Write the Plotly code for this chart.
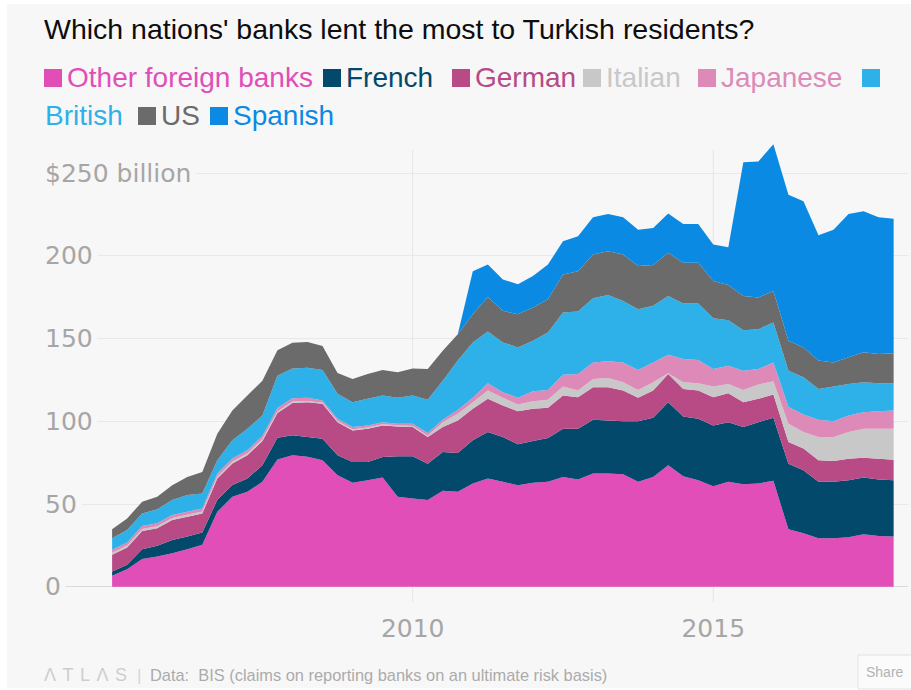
import plotly.graph_objects as go

# ---------------- data (billions of US$, quarterly 2005Q1 .. 2018Q1) ----------------
years = list(range(2005, 2018))
periods = [y + q / 4 for y in years for q in range(4)] + [2018.0]

series_names = ["Other foreign banks", "French", "German", "Italian",
                "Japanese", "British", "US", "Spanish"]
series_colors = ["#e14eb8", "#02496b", "#b84a86", "#c8c8c8",
                 "#dd8ab8", "#2eb1e8", "#6b6b6b", "#0a8ae2"]

other_foreign = [6.6, 10.6, 16.7, 18.3, 20.3, 22.7, 25.3, 45.3, 54.4, 57.4, 63.4, 76.9, 79.5,
                 78.5, 76.4, 67.4, 62.8, 64.4, 66.0, 54.4, 53.4, 52.4, 58.0, 57.4, 62.4, 65.4,
                 63.4, 61.4, 62.8, 63.4, 66.4, 64.8, 68.4, 68.4, 68.0, 63.4, 66.4, 73.4, 66.8,
                 64.4, 60.8, 63.4, 62.0, 62.4, 64.0, 34.7, 32.3, 29.3, 29.3, 29.9, 31.7, 30.7, 30.3]
french = [2.6, 2.6, 6.0, 6.4, 8.0, 7.6, 7.5, 7.2, 7.1, 8.0, 10.1, 13.1, 12.0,
          12.0, 13.1, 12.1, 12.6, 11.0, 12.4, 24.4, 25.4, 22.0, 23.5, 23.5, 26.1, 28.1,
          27.1, 24.7, 25.3, 26.5, 29.1, 30.7, 32.5, 32.1, 32.1, 36.7, 35.7, 38.2, 36.1,
          37.1, 36.7, 36.1, 34.5, 37.1, 38.1, 39.7, 38.1, 34.1, 34.1, 34.5, 34.3, 34.1, 34.1]
german = [10.1, 10.5, 11.0, 10.6, 12.0, 12.0, 11.5, 12.9, 13.0, 14.1, 14.6, 15.0, 19.5,
          21.0, 21.1, 20.0, 19.1, 20.1, 19.1, 18.1, 17.7, 16.1, 15.0, 19.6, 19.1, 20.1,
          19.1, 20.0, 19.5, 18.3, 20.1, 19.1, 19.7, 20.1, 18.5, 14.1, 16.5, 17.0, 16.7,
          17.1, 17.1, 17.5, 15.1, 14.1, 14.1, 13.1, 13.1, 13.0, 12.6, 13.0, 12.0, 12.6, 12.4]
italian = [1.2, 1.2, 1.2, 1.2, 1.2, 1.2, 1.2, 1.2, 1.2, 1.2, 1.2, 1.0, 1.0,
           0.7, 0.7, 0.7, 0.7, 0.7, 0.7, 0.7, 0.7, 0.7, 3.0, 4.0, 4.0, 5.0,
           4.6, 4.1, 4.6, 4.8, 5.4, 4.0, 5.0, 5.6, 5.0, 4.8, 5.0, 0.5, 4.0,
           4.4, 6.4, 5.6, 7.4, 8.6, 8.0, 11.0, 10.0, 14.1, 14.5, 16.1, 17.5, 18.1, 18.7]
japanese = [1.8, 1.8, 1.8, 1.8, 1.8, 1.8, 1.8, 1.8, 1.8, 1.8, 1.8, 2.0, 2.0,
            2.0, 1.3, 1.3, 1.3, 1.3, 1.3, 0.9, 1.3, 1.7, 1.4, 2.4, 2.6, 4.4,
            3.4, 4.0, 6.0, 6.0, 7.2, 10.0, 10.0, 10.1, 12.0, 12.0, 12.0, 11.2, 14.1,
            14.1, 10.6, 11.0, 11.6, 9.4, 11.4, 10.1, 10.6, 10.4, 9.6, 10.0, 10.0, 10.6, 11.0]
british = [7.0, 7.6, 7.6, 8.5, 9.1, 10.1, 9.1, 8.1, 11.0, 13.0, 12.4, 19.6, 18.0,
           18.2, 18.4, 15.1, 15.1, 16.1, 16.1, 15.7, 17.1, 20.1, 23.7, 29.8, 33.5, 31.3,
           30.1, 30.5, 30.5, 34.7, 37.6, 37.8, 38.8, 40.1, 37.2, 36.8, 34.2, 35.5, 33.5,
           34.1, 30.7, 27.5, 24.5, 24.1, 24.1, 22.0, 22.5, 18.7, 20.9, 19.1, 18.1, 16.9, 16.5]
us = [5.4, 7.0, 7.1, 7.6, 9.0, 11.0, 13.0, 16.0, 18.1, 20.1, 21.1, 15.4, 15.5,
      15.6, 14.5, 12.6, 14.0, 15.0, 15.4, 15.4, 16.4, 18.6, 18.1, 16.0, 17.0, 20.9,
      19.1, 20.0, 20.1, 20.1, 23.0, 24.4, 26.5, 26.5, 28.1, 26.1, 24.7, 26.1, 24.7,
      24.7, 22.5, 21.3, 20.7, 19.1, 19.1, 18.1, 18.1, 17.1, 14.6, 16.1, 18.1, 17.7, 18.1]
spanish = [0.0, 0.0, 0.0, 0.0, 0.0, 0.0, 0.0, 0.0, 0.0, 0.0, 0.0, 0.0, 0.0,
           0.0, 0.0, 0.0, 0.0, 0.0, 0.0, 0.0, 0.0, 0.0, 0.0, 0.0, 26.1, 19.6,
           19.0, 18.1, 19.0, 21.0, 20.1, 21.1, 22.5, 22.5, 22.5, 22.0, 22.4, 23.7, 23.4,
           23.4, 22.1, 22.9, 80.9, 82.3, 88.7, 88.3, 88.3, 75.8, 80.3, 86.7, 85.3, 82.7, 81.4]

series_values = [other_foreign, french, german, italian, japanese, british, us, spanish]

y_ticks = [0, 50, 100, 150, 200, 250]
y_tick_labels = ["0", "50", "100", "150", "200", "$250 billion"]
x_ticks = [2010, 2015]
x_tick_labels = ["2010", "2015"]

title_text = "Which nations' banks lent the most to Turkish residents?"
brand_text = "Λ\u200a T\u200a L\u200a Λ\u200a S"
source_text = "Data:  BIS (claims on reporting banks on an ultimate risk basis)"

# ---------------- layout geometry (pixels) ----------------
W, H = 911, 690
PL, PR, PT, PB = 44, 908, 138, 602   # plot area box in pixels
BG = "#f7f7f7"
TICK_FONT = dict(family="DejaVu Sans", size=25, color="#a6a6a6")


def fx(px):
    return (px - PL) / (PR - PL)


def fy(py):
    return (PB - py) / (PB - PT)


fig = go.Figure()
for name, color, vals in zip(series_names, series_colors, series_values):
    fig.add_trace(go.Scatter(
        x=periods, y=vals, name=name, stackgroup="banks", mode="none",
        fillcolor=color, line=dict(width=0), hoverinfo="skip", showlegend=False,
    ))

shapes = []
# background card with thin white frame
shapes.append(dict(type="rect", xref="paper", yref="paper", layer="below",
                   x0=fx(7), x1=fx(915), y0=fy(688), y1=fy(4),
                   fillcolor=BG, line=dict(width=0)))
# vertical gridlines
for xv in x_ticks:
    shapes.append(dict(type="line", xref="x", yref="paper", layer="below",
                       x0=xv, x1=xv, y0=0, y1=fy(150),
                       line=dict(color="#e6e6e6", width=1)))

annotations = []
# y tick labels (mask the gridline behind them)
for v, lab in zip(y_ticks, y_tick_labels):
    annotations.append(dict(text=lab, xref="paper", yref="y", x=0, y=v,
                            xanchor="left", yanchor="middle", showarrow=False,
                            xshift=-4, borderpad=4, bgcolor=BG, font=TICK_FONT))

# title
annotations.append(dict(text=title_text, xref="paper", yref="paper", x=fx(42), y=fy(29),
                        xanchor="left", yanchor="middle", showarrow=False,
                        font=dict(family="Liberation Sans", size=28.5, color="#0d0d0d")))

# legend (two wrapped rows like the original)
legend_rows = [78, 116]
legend_layout = [  # (series index, square x, row, text?)
    (0, 44, 0, True), (1, 323, 0, True), (2, 452, 0, True), (3, 583, 0, True),
    (4, 698, 0, True), (5, 862, 0, False), (6, 138, 1, True), (7, 210, 1, True),
]
SQ = 18
for idx, sx, row, has_text in legend_layout:
    cy = legend_rows[row]
    shapes.append(dict(type="rect", xref="paper", yref="paper",
                       x0=fx(sx), x1=fx(sx + SQ), y0=fy(cy + 9), y1=fy(cy - 9),
                       fillcolor=series_colors[idx], line=dict(width=0)))
    if has_text:
        annotations.append(dict(text=series_names[idx], xref="paper", yref="paper",
                                x=fx(sx + SQ + 3), y=fy(cy - 1), xanchor="left", yanchor="middle",
                                showarrow=False,
                                font=dict(family="Liberation Sans", size=28, color=series_colors[idx])))
# "British" wrapped to second row
annotations.append(dict(text=series_names[5], xref="paper", yref="paper",
                        x=fx(43), y=fy(legend_rows[1] - 1), xanchor="left", yanchor="middle",
                        showarrow=False,
                        font=dict(family="Liberation Sans", size=28, color=series_colors[5])))

# footer
annotations.append(dict(text=brand_text, xref="paper", yref="paper", x=fx(42), y=fy(675),
                        xanchor="left", yanchor="middle", showarrow=False,
                        font=dict(family="Liberation Sans", size=18, color="#cdcdcd")))
annotations.append(dict(text="|", xref="paper", yref="paper", x=fx(135), y=fy(675),
                        xanchor="left", yanchor="middle", showarrow=False,
                        font=dict(family="Liberation Sans", size=17, color="#d5d5d5")))
annotations.append(dict(text=source_text, xref="paper", yref="paper", x=fx(148), y=fy(675),
                        xanchor="left", yanchor="middle", showarrow=False,
                        font=dict(family="Liberation Sans", size=16.4, color="#ababab")))
# share button
shapes.append(dict(type="rect", xref="paper", yref="paper",
                   x0=fx(858), x1=fx(916), y0=fy(689), y1=fy(655),
                   fillcolor="#fbfbfb", line=dict(color="#e2e2e2", width=1)))
annotations.append(dict(text="Share", xref="paper", yref="paper", x=fx(885), y=fy(672),
                        xanchor="center", yanchor="middle", showarrow=False,
                        font=dict(family="Liberation Sans", size=14, color="#b3b3b3")))

fig.update_layout(
    width=W, height=H,
    margin=dict(l=PL, r=W - PR, t=PT, b=H - PB, pad=0),
    paper_bgcolor="#ffffff", plot_bgcolor="rgba(0,0,0,0)",
    showlegend=False,
    shapes=shapes, annotations=annotations,
    xaxis=dict(range=[2003.867, 2018.239], tickvals=x_ticks, ticktext=x_tick_labels,
               showgrid=False, zeroline=False, showline=False, ticks="",
               tickfont=TICK_FONT, ticklabelstandoff=9, fixedrange=True),
    yaxis=dict(range=[-9.25, 271.3], tickvals=y_ticks, showticklabels=False,
               showgrid=True, gridcolor="#e9e9e9", gridwidth=1,
               zeroline=True, zerolinecolor="#dadada", zerolinewidth=1,
               showline=False, ticks="", fixedrange=True),
)

fig.write_html(
    "out.html",
    config={"displayModeBar": False},
    post_script="document.body.style.margin='0';document.body.style.overflow='hidden';",
)
